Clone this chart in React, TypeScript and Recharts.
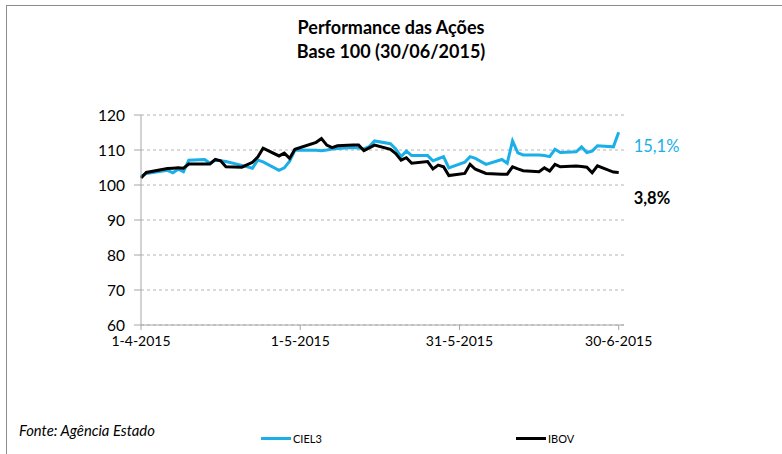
import React from "react";
import { LineChart, Line, XAxis, YAxis, CartesianGrid, Legend, LabelList } from "recharts";

// Day offsets from 1-4-2015 (trading days)
const days = [0, 1, 5, 6, 7, 8, 9, 12, 13, 14, 15, 16, 19, 21, 22, 23, 26, 27, 28, 29, 33, 34, 35, 36, 37, 40, 41, 42, 43, 44, 47, 48, 49, 50, 51, 54, 55, 56, 57, 58, 61, 62, 63, 65, 68, 69, 70, 71, 72, 75, 76, 77, 78, 79, 82, 83, 84, 85, 86, 89, 90];

const ciel3 = [102.5, 103.3, 104.2, 103.5, 104.5, 103.8, 107.1, 107.3, 106.2, 107.1, 106.9, 106.7, 105.6, 104.8, 107.1, 106.6, 104.2, 104.9, 106.8, 110.0, 109.9, 109.8, 110.0, 110.3, 110.4, 110.7, 110.6, 110.3, 111.0, 112.6, 111.8, 110.3, 108.1, 109.7, 108.4, 108.4, 106.9, 107.5, 108.1, 104.9, 106.5, 108.1, 107.6, 105.9, 107.3, 106.2, 112.6, 109.2, 108.6, 108.6, 108.4, 108.1, 110.2, 109.3, 109.5, 110.9, 109.3, 109.7, 111.2, 110.9, 115.1];

const ibov = [102.0, 103.6, 104.7, 104.8, 104.9, 104.8, 106.0, 106.0, 106.0, 107.3, 106.9, 105.2, 105.1, 106.5, 108.0, 110.5, 108.3, 109.1, 107.6, 110.2, 112.2, 113.3, 111.4, 110.7, 111.2, 111.4, 111.4, 109.8, 110.6, 111.4, 110.2, 109.0, 107.1, 107.8, 106.2, 106.7, 104.6, 105.7, 105.2, 102.7, 103.3, 105.9, 104.5, 103.3, 103.1, 103.1, 105.2, 104.6, 104.1, 103.8, 104.9, 104.0, 105.9, 105.2, 105.4, 105.3, 105.1, 103.5, 105.5, 103.7, 103.6];

const xTickDays = [0, 30, 60, 90];
const xTickLabels = ["1-4-2015", "1-5-2015", "31-5-2015", "30-6-2015"];
const yTicks = [60, 70, 80, 90, 100, 110, 120];
const seriesNames = ["CIEL3", "IBOV"];
const endLabels = ["15,1%", "3,8%"];
const titleLines = ["Performance das Ações", "Base 100 (30/06/2015)"];
const sourceText = "Fonte: Agência Estado";

const data = days.map((d, i) => ({ day: d, CIEL3: ciel3[i], IBOV: ibov[i] }));

const BLUE = "#1AAFE8";
const BLACK = "#000000";
const FONT = "Lato, 'Open Sans', sans-serif";

const makeEndLabel = (text: string, color: string, dy: number, bold: boolean) => (props: any) => {
  const { x, y, index } = props;
  if (index !== data.length - 1) return null;
  return (
    <text x={x + 15} y={y + dy} fill={color} fontSize={16.5} fontFamily={FONT} fontWeight={bold ? 700 : 400} dominantBaseline="central">
      {text}
    </text>
  );
};

const LegendContent = (props: any) => {
  const payload = props.payload || [];
  const lefts = [261, 516];
  return (
    <div style={{ position: "relative", width: 782, height: 16 }}>
      {payload.map((p: any, i: number) => (
        <div key={p.value} style={{ position: "absolute", left: lefts[i], top: 0, height: 16, display: "flex", alignItems: "center" }}>
          <div style={{ width: 30, height: 3, background: p.color }} />
          <span style={{ marginLeft: 2, fontFamily: FONT, fontSize: 11, color: "#000" }}>{p.value}</span>
        </div>
      ))}
    </div>
  );
};

export default function App() {
  return (
    <div style={{ position: "absolute", left: 0, top: 0, width: 782, height: 454, background: "#fff", overflow: "hidden" }}>
      <div style={{ position: "absolute", left: 6, top: 5, width: 800, height: 460, borderLeft: "1px solid #8c8c8c", borderTop: "1px solid #8c8c8c" }} />
      <div style={{ position: "absolute", left: 0, top: 15, width: 782, textAlign: "center", fontFamily: FONT, fontWeight: 700, fontSize: 18, lineHeight: "24px", color: "#000" }}>
        {titleLines.map((t) => (
          <div key={t}>{t}</div>
        ))}
      </div>
      <div style={{ position: "absolute", left: 19, top: 421, fontFamily: FONT, fontStyle: "italic", fontSize: 14.8, lineHeight: "18px", color: "#000" }}>
        {sourceText}
      </div>
      <div style={{ position: "absolute", left: 0, top: 0 }}>
        <LineChart width={782} height={454} data={data} margin={{ top: 115, right: 158, bottom: 8, left: 0 }}>
          <CartesianGrid horizontal={true} vertical={false} stroke="#b4b4b4" strokeDasharray="3 3" />
          <XAxis
            dataKey="day"
            type="number"
            domain={[0, 91]}
            ticks={xTickDays}
            tickFormatter={(v: number) => xTickLabels[xTickDays.indexOf(v)]}
            height={105}
            stroke="#a6a6a6"
            tickSize={5}
            tickMargin={6}
            tick={{ fill: "#000", fontSize: 14, fontFamily: FONT }}
            allowDecimals={false}
          />
          <YAxis
            domain={[60, 120]}
            ticks={yTicks}
            width={141}
            stroke="#a6a6a6"
            tickSize={7}
            tickMargin={9}
            tick={{ fill: "#000", fontSize: 15.5, fontFamily: FONT }}
          />
          <Legend verticalAlign="bottom" height={16} wrapperStyle={{ left: 0, width: 782, height: 16 }} content={<LegendContent />} />
          <Line type="linear" dataKey="CIEL3" name={seriesNames[0]} stroke={BLUE} strokeWidth={3} dot={false} isAnimationActive={false}>
            <LabelList dataKey="CIEL3" content={makeEndLabel(endLabels[0], BLUE, 14, false)} />
          </Line>
          <Line type="linear" dataKey="IBOV" name={seriesNames[1]} stroke={BLACK} strokeWidth={3} dot={false} isAnimationActive={false}>
            <LabelList dataKey="IBOV" content={makeEndLabel(endLabels[1], BLACK, 26, true)} />
          </Line>
        </LineChart>
      </div>
    </div>
  );
}
